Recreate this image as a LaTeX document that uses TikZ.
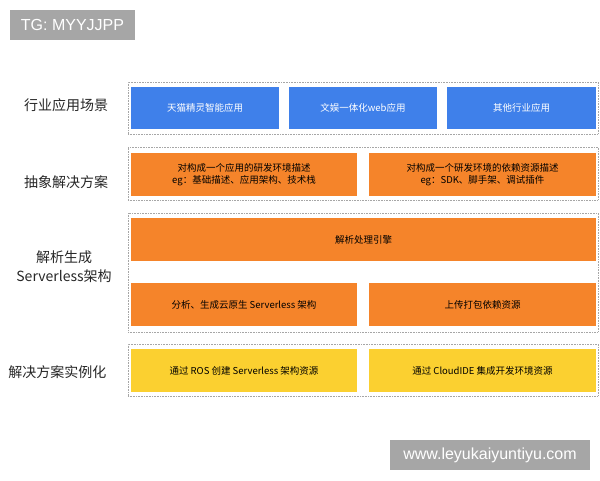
\documentclass[tikz,border=0pt]{standalone}
\usepackage{fontspec}
\setmainfont{Noto Sans CJK SC}
\newfontfamily\wmfont{Liberation Sans}
\definecolor{tmblue}{HTML}{3F80EA}
\definecolor{tmorange}{HTML}{F5842A}
\definecolor{tmyellow}{HTML}{FBD030}
\definecolor{wmgray}{HTML}{A6A6A6}
\begin{document}
\begin{tikzpicture}[x=1pt, y=-1pt]

      \tikzset{frame/.style={draw=gray!70, densely dotted, line width=0.6pt, inner sep=0pt, minimum width=470pt},
               blk/.style={inner sep=0pt, minimum height=43pt, font=\fontsize{9.5}{11.5}\selectfont, align=center},
               blue/.style={blk, fill=tmblue, text=white, minimum height=42pt},
               orange/.style={blk, fill=tmorange, text=black},
               yellow/.style={blk, fill=tmyellow, text=black},
               rowlabel/.style={font=\fontsize{14}{18}\selectfont, text=black!85, align=center, inner sep=0pt},
               watermark/.style={fill=wmgray, text=white, font=\wmfont\fontsize{16}{16}\selectfont, inner sep=0pt}}
      \useasboundingbox (0,0) rectangle (600,480);
%% Watermarks
      	\node[watermark, minimum width=125pt, minimum height=30pt] (tg) at (72.5,25) {TG: MYYJJPP};
      	\node[watermark, minimum width=200pt, minimum height=30pt] (site) at (490,455) {www.leyukaiyuntiyu.com};
%% Frames
      	\node[frame, minimum height=52pt] (f1) at (363,108) {};
      	\node[frame, minimum height=53pt] (f2) at (363,173.5) {};
      	\node[frame, minimum height=119pt] (f3) at (363,272.5) {};
      	\node[frame, minimum height=52pt] (f4) at (363,370) {};
%% Row labels
      	\node[rowlabel] (l1) at (66,105) {行业应用场景};
      	\node[rowlabel] (l2) at (66,182) {抽象解决方案};
      	\node[rowlabel, font=\fontsize{14}{19}\selectfont] (l3) at (64,267) {解析生成\\Serverless架构};
      	\node[rowlabel] (l4) at (57.5,372) {解决方案实例化};
%% Row 1
      	\node[blue, minimum width=148pt] (app1) at (205,108) {天猫精灵智能应用};
      	\node[blue, minimum width=148pt] (app2) at (363,108) {文娱一体化web应用};
      	\node[blue, minimum width=149pt] (app3) at (521.5,108) {其他行业应用};
%% Row 2
      	\node[orange, minimum width=226pt] (desc1) at (244,174.5) {对构成一个应用的研发环境描述\\eg：基础描述、应用架构、技术栈};
      	\node[orange, minimum width=227pt] (desc2) at (482.5,174.5) {对构成一个研发环境的依赖资源描述\\eg：SDK、脚手架、调试插件};
%% Row 3
      	\node[orange, minimum width=465pt] (engine) at (363.5,239.5) {解析处理引擎};
      	\node[orange, minimum width=226pt] (gen1) at (244,304.5) {分析、生成云原生 Serverless 架构};
      	\node[orange, minimum width=227pt] (gen2) at (482.5,304.5) {上传打包依赖资源};
%% Row 4
      	\node[yellow, minimum width=226pt] (inst1) at (244,370.5) {通过 ROS 创建 Serverless 架构资源};
      	\node[yellow, minimum width=227pt] (inst2) at (482.5,370.5) {通过 CloudIDE 集成开发环境资源};

	\end{tikzpicture}
\end{document}
